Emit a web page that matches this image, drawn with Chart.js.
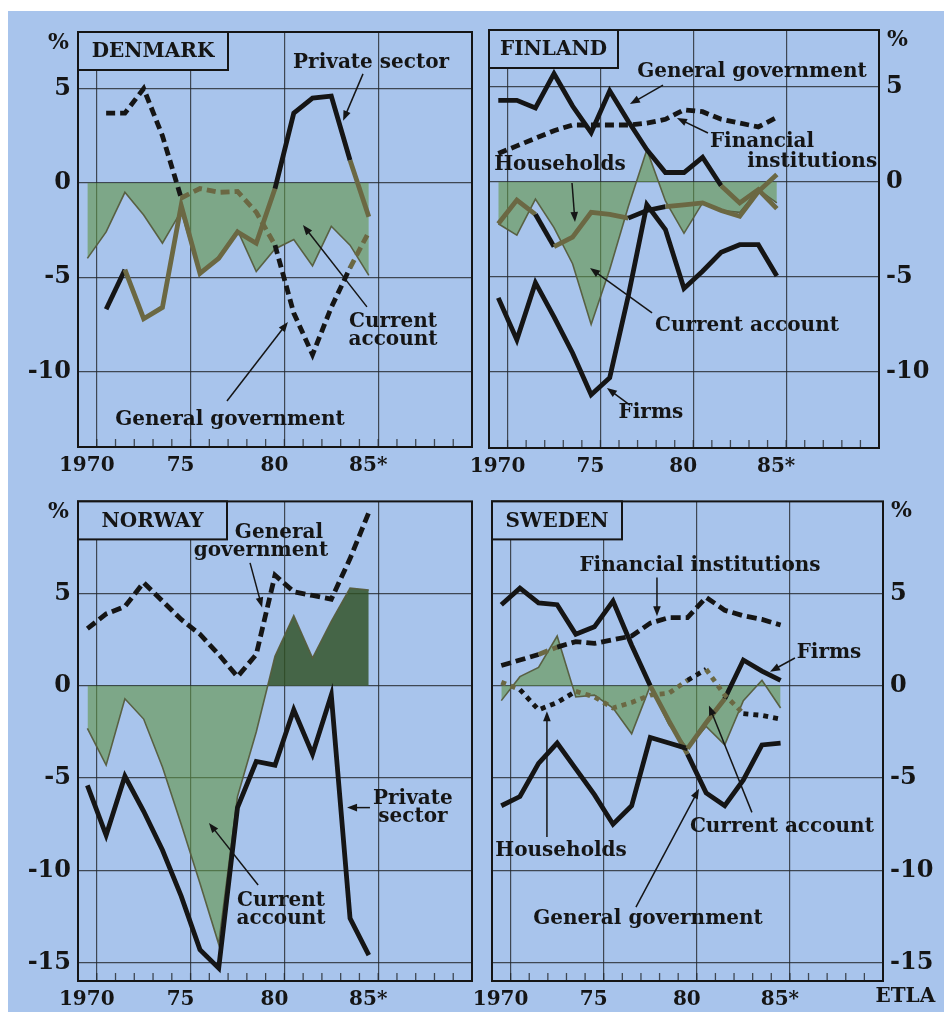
<!DOCTYPE html>
<html>
<head>
<meta charset="utf-8">
<title>Financial balances by sector, Nordic countries</title>
<script src="https://cdn.jsdelivr.net/npm/chart.js@4.4.1/dist/chart.umd.min.js"></script>
<style>
  html, body { margin: 0; padding: 0; background: #ffffff; }
  #sheet { position: relative; width: 944px; height: 1012px; overflow: hidden; background: #ffffff; }
  #paper { position: absolute; left: 8px; top: 11px; width: 936px; height: 1001px; background: #a8c4ec; }
  canvas { position: absolute; }
</style>
</head>
<body>
<div id="sheet">
  <div id="paper"></div>
  <canvas id="denmark" width="480" height="480" style="left:0;top:0;width:480px;height:480px"></canvas>
  <canvas id="finland" width="482" height="480" style="left:462px;top:0;width:482px;height:480px"></canvas>
  <canvas id="norway" width="480" height="532" style="left:0;top:480px;width:480px;height:532px"></canvas>
  <canvas id="sweden" width="482" height="532" style="left:462px;top:480px;width:482px;height:532px"></canvas>
</div>
<script>
// ---- data: financial balances, % of GDP ----
const years = [1970, 1971, 1972, 1973, 1974, 1975, 1976, 1977, 1978, 1979, 1980, 1981, 1982, 1983, 1984, 1985];
const yearLabelValues = [1970, 1975, 1980, 1985];
const yearTickLabels = ['1970', '75', '80', '85*'];
const valueTicksUpper = [5, 0, -5, -10];
const valueTicksLower = [5, 0, -5, -10, -15];

const denmarkCurrentAccount    = [-4.0, -2.6, -0.5, -1.7, -3.2, -1.5, -4.9, -3.9, -2.5, -4.7, -3.5, -3.0, -4.4, -2.3, -3.3, -4.9];
const denmarkGeneralGovernment = [null, 3.7, 3.7, 5.0, 2.5, -0.8, -0.3, -0.5, -0.45, -1.55, -3.3, -6.9, -9.1, -6.6, -4.5, -2.6];
const denmarkPrivateSector     = [null, -6.7, -4.6, -7.2, -6.6, -1.2, -4.8, -4.0, -2.6, -3.2, -0.3, 3.7, 4.5, 4.6, 1.2, -1.8];

const finlandCurrentAccount    = [-2.2, -2.8, -0.9, -2.4, -4.3, -7.5, -4.6, -1.3, 1.7, -1.0, -2.7, -1.1, -1.5, -1.6, -0.4, -1.1];
const finlandGeneralGovernment = [4.3, 4.3, 3.9, 5.7, 4.0, 2.6, 4.8, 3.2, 1.7, 0.5, 0.5, 1.3, -0.2, -1.1, -0.4, -1.4];
const finlandFinancialInst     = [1.5, 1.9, 2.3, 2.7, 3.0, 3.0, 3.0, 3.0, 3.1, 3.3, 3.8, 3.7, 3.3, 3.1, 2.9, 3.4];
const finlandHouseholds        = [-2.2, -0.95, -1.7, -3.4, -2.9, -1.6, -1.7, -1.9, -1.5, -1.3, -1.2, -1.1, -1.5, -1.8, -0.5, 0.4];
const finlandFirms             = [-6.1, -8.3, -5.3, -7.1, -9.0, -11.2, -10.3, -6.0, -1.2, -2.5, -5.6, -4.7, -3.7, -3.3, -3.3, -4.95];

const norwayCurrentAccount     = [-2.3, -4.3, -0.7, -1.8, -4.4, -7.5, -10.7, -14.0, -6.0, -2.5, 1.6, 3.8, 1.5, 3.5, 5.3, 5.2];
const norwayGeneralGovernment  = [3.1, 3.9, 4.3, 5.6, 4.6, 3.6, 2.8, 1.7, 0.5, 1.7, 6.0, 5.1, 4.9, 4.7, 6.9, 9.4];
const norwayPrivateSector      = [-5.4, -8.1, -4.9, -6.8, -8.9, -11.4, -14.3, -15.3, -6.6, -4.1, -4.3, -1.3, -3.7, -0.5, -12.6, -14.6];

const swedenCurrentAccount     = [-0.8, 0.5, 1.0, 2.7, -0.6, -0.5, -1.2, -2.6, 0.0, -2.1, -3.4, -2.2, -3.2, -0.8, 0.3, -1.2];
const swedenGeneralGovernment  = [4.4, 5.3, 4.5, 4.4, 2.8, 3.2, 4.6, 2.2, 0.0, -1.9, -3.7, -5.8, -6.5, -5.1, -3.2, -3.1];
const swedenFinancialInst      = [1.1, 1.4, 1.7, 2.1, 2.4, 2.3, 2.5, 2.7, 3.4, 3.7, 3.7, 4.8, 4.1, 3.8, 3.6, 3.3];
const swedenHouseholds         = [0.2, -0.2, -1.3, -0.9, -0.3, -0.6, -1.2, -0.9, -0.5, -0.4, 0.3, 0.9, -0.5, -1.5, -1.6, -1.8];
const swedenFirms              = [-6.5, -6.0, -4.2, -3.1, -4.5, -5.9, -7.5, -6.5, -2.8, -3.1, -3.4, -2.0, -0.7, 1.4, 0.8, 0.3];

// ---- look ----
const PAPER = '#a8c4ec';
const INK = '#151515';
const OLIVE = '#6b6843';
const SHADE = 'rgba(97,149,70,0.6)';
const SHADE_DARK = 'rgba(48,80,34,0.82)';
const SHADE_EDGE = 'rgba(85,92,60,0.95)';
const GRID = 'rgba(35,40,45,0.8)';
const SERIF = '"DejaVu Serif", "Liberation Serif", serif';

function pointsOf(values) {
  return years.map((yr, i) => ({ x: yr, y: values[i] }));
}

// a sector line turns olive where it runs through the shaded current-account band
function inShade(values, shade, i, j) {
  const a = values[i], b = values[j];
  if (a == null || b == null) return false;
  const m = (a + b) / 2, c = (shade[i] + shade[j]) / 2, tol = 0.2;
  return c < 0 ? (m <= tol && m >= c - tol) : (m >= -tol && m <= c + tol);
}

function sectorLine(s, shade) {
  const tinted = i => s.oliveFrom != null && years[i] >= s.oliveFrom && years[i] < s.oliveTo;
  return {
    label: s.label,
    data: pointsOf(s.values),
    order: 1,
    borderColor: INK,
    borderWidth: 4.8,
    borderDash: s.dash || [],
    borderJoinStyle: 'miter',
    borderCapStyle: 'butt',
    pointRadius: 0,
    tension: 0,
    fill: false,
    segment: {
      borderColor: c => (tinted(c.p0DataIndex) || inShade(s.values, shade, c.p0DataIndex, c.p1DataIndex)) ? OLIVE : INK
    }
  };
}

function shadeBand(values, above) {
  return {
    label: 'Current account',
    data: pointsOf(values),
    order: 2,
    borderColor: SHADE_EDGE,
    borderWidth: 1.6,
    pointRadius: 0,
    tension: 0,
    fill: { target: 'origin', above: above || SHADE, below: SHADE }
  };
}

const panelDecor = {
  id: 'panelDecor',
  afterDraw(chart, _args, o) {
    const { ctx, chartArea: a, scales } = chart;
    const x = scales.x, y = scales.y;
    ctx.save();

    // yearly tick marks standing on the bottom edge
    ctx.strokeStyle = GRID;
    ctx.lineWidth = 1.3;
    for (let v = yearLabelValues[0] + 0.5; v < x.max; v += 1) {
      const px = x.getPixelForValue(v);
      ctx.beginPath();
      ctx.moveTo(px, a.bottom);
      ctx.lineTo(px, a.bottom - 8);
      ctx.stroke();
    }

    // panel frame
    ctx.strokeStyle = INK;
    ctx.lineWidth = 2;
    ctx.strokeRect(a.left, a.top, a.right - a.left, a.bottom - a.top);

    // country box
    ctx.fillStyle = PAPER;
    ctx.fillRect(a.left, a.top, o.boxWidth, 38);
    ctx.strokeRect(a.left, a.top, o.boxWidth, 38);
    ctx.fillStyle = INK;
    ctx.font = 'bold 20px ' + SERIF;
    ctx.textAlign = 'center';
    ctx.textBaseline = 'middle';
    ctx.fillText(o.name, a.left + o.boxWidth / 2, a.top + 20);

    // unit sign beside the value axis
    ctx.font = 'bold 22px ' + SERIF;
    ctx.textBaseline = 'top';
    if (o.side === 'left') {
      ctx.textAlign = 'right';
      ctx.fillText('%', a.left - 9, a.top);
    } else {
      ctx.textAlign = 'left';
      ctx.fillText('%', a.right + 8, a.top - 1);
    }

    // series names with pointer arrows
    ctx.font = 'bold 20px ' + SERIF;
    ctx.textAlign = 'center';
    ctx.textBaseline = 'middle';
    for (const n of o.notes) {
      const cx = x.getPixelForValue(n.at[0]);
      const cy = y.getPixelForValue(n.at[1]);
      n.text.forEach((t, i) => {
        ctx.fillText(t, cx, cy + (i - (n.text.length - 1) / 2) * 18);
      });
      if (n.arrow) {
        const x1 = x.getPixelForValue(n.arrow[0][0]), y1 = y.getPixelForValue(n.arrow[0][1]);
        const x2 = x.getPixelForValue(n.arrow[1][0]), y2 = y.getPixelForValue(n.arrow[1][1]);
        const ang = Math.atan2(y2 - y1, x2 - x1);
        ctx.strokeStyle = INK;
        ctx.lineWidth = 1.5;
        ctx.beginPath();
        ctx.moveTo(x1, y1);
        ctx.lineTo(x2 - 6 * Math.cos(ang), y2 - 6 * Math.sin(ang));
        ctx.stroke();
        ctx.beginPath();
        ctx.moveTo(x2, y2);
        ctx.lineTo(x2 - 10 * Math.cos(ang) + 3.8 * Math.sin(ang), y2 - 10 * Math.sin(ang) - 3.8 * Math.cos(ang));
        ctx.lineTo(x2 - 10 * Math.cos(ang) - 3.8 * Math.sin(ang), y2 - 10 * Math.sin(ang) + 3.8 * Math.cos(ang));
        ctx.closePath();
        ctx.fill();
      }
    }
    ctx.restore();
  }
};

function buildPanel(id, cfg) {
  const datasets = [shadeBand(cfg.currentAccount, cfg.shadeAbove)]
    .concat(cfg.sectors.map(s => sectorLine(s, cfg.currentAccount)));
  return new Chart(document.getElementById(id), {
    type: 'line',
    data: { datasets },
    options: {
      responsive: false,
      animation: false,
      events: [],
      layout: { padding: cfg.padding },
      plugins: {
        legend: { display: false },
        tooltip: { enabled: false },
        panelDecor: { name: cfg.name, boxWidth: cfg.boxWidth, side: cfg.side, notes: cfg.notes }
      },
      scales: {
        x: {
          type: 'linear',
          min: yearLabelValues[0] - 0.5,
          max: yearLabelValues[yearLabelValues.length - 1] + 5.5,
          afterBuildTicks: s => { s.ticks = yearLabelValues.map(v => ({ value: v + 0.5 })); },
          afterFit: s => { s.height = cfg.xHeight; },
          ticks: {
            callback: (v, i) => yearTickLabels[i],
            labelOffset: -10,
            padding: 7,
            autoSkip: false,
            maxRotation: 0,
            color: INK,
            font: { family: SERIF, size: 20, weight: 'bold' }
          },
          grid: { color: GRID, lineWidth: 1.2, drawTicks: false },
          border: { display: false }
        },
        y: {
          position: cfg.side,
          min: cfg.yMin,
          max: cfg.yMax,
          afterBuildTicks: s => { s.ticks = cfg.yTicks.map(v => ({ value: v })); },
          afterFit: s => { s.width = cfg.yWidth; },
          ticks: {
            callback: v => String(v),
            padding: 7,
            color: INK,
            font: { family: SERIF, size: 24, weight: 'bold' }
          },
          grid: { color: GRID, lineWidth: 1.2, drawTicks: false },
          border: { display: false }
        }
      }
    },
    plugins: [panelDecor]
  });
}

buildPanel('denmark', {
  name: 'DENMARK', boxWidth: 150, side: 'left',
  padding: { left: 0, top: 32, right: 8, bottom: 0 }, yWidth: 78, xHeight: 33,
  yMin: -14, yMax: 8, yTicks: valueTicksUpper,
  currentAccount: denmarkCurrentAccount,
  sectors: [
    { label: 'General government', values: denmarkGeneralGovernment, dash: [9, 5] },
    { label: 'Private sector', values: denmarkPrivateSector, oliveFrom: 1972, oliveTo: 1975 }
  ],
  notes: [
    { text: ['Private sector'], at: [1985.12, 6.36], arrow: [[1984.69, 5.78], [1983.63, 3.3]] },
    { text: ['Current', 'account'], at: [1986.29, -7.85], arrow: [[1984.9, -6.57], [1981.49, -2.23]] },
    { text: ['General government'], at: [1977.6, -12.57], arrow: [[1977.44, -11.56], [1980.69, -7.37]] }
  ]
});

buildPanel('finland', {
  name: 'FINLAND', boxWidth: 129, side: 'right',
  padding: { left: 27, top: 30, right: 0, bottom: 0 }, yWidth: 65, xHeight: 32,
  yMin: -14, yMax: 8, yTicks: valueTicksUpper,
  currentAccount: finlandCurrentAccount,
  sectors: [
    { label: 'Financial institutions', values: finlandFinancialInst, dash: [9, 5] },
    { label: 'Households', values: finlandHouseholds },
    { label: 'Firms', values: finlandFirms },
    { label: 'General government', values: finlandGeneralGovernment }
  ],
  notes: [
    { text: ['General government'], at: [1983.66, 5.79], arrow: [[1978.87, 5.1], [1977.09, 4.1]] },
    { text: ['Financial'], at: [1984.2, 2.1], arrow: [[1981.29, 2.58], [1979.62, 3.37]] },
    { text: ['institutions'], at: [1986.9, 1.05] },
    { text: ['Households'], at: [1973.32, 0.89], arrow: [[1973.97, -0.05], [1974.13, -2.1]] },
    { text: ['Current account'], at: [1983.39, -7.58], arrow: [[1978.28, -6.89], [1974.94, -4.53]] },
    { text: ['Firms'], at: [1978.22, -12.16], arrow: [[1977.09, -11.74], [1975.85, -10.84]] }
  ]
});

buildPanel('norway', {
  name: 'NORWAY', boxWidth: 149, side: 'left',
  padding: { left: 0, top: 7, right: 8, bottom: 0 }, yWidth: 78, xHeight: 31,
  yMin: -16, yMax: 10, yTicks: valueTicksLower,
  currentAccount: norwayCurrentAccount, shadeAbove: SHADE_DARK,
  sectors: [
    { label: 'General government', values: norwayGeneralGovernment, dash: [10, 5] },
    { label: 'Private sector', values: norwayPrivateSector }
  ],
  notes: [
    { text: ['General'], at: [1980.21, 8.3] },
    { text: ['government'], at: [1979.25, 7.3], arrow: [[1978.67, 6.67], [1979.31, 4.25]] },
    { text: ['Current', 'account'], at: [1980.32, -12.12], arrow: [[1979.1, -10.8], [1976.48, -7.43]] },
    { text: ['Private', 'sector'], at: [1987.35, -6.62], arrow: [[1985.06, -6.6], [1983.84, -6.6]] }
  ]
});

buildPanel('sweden', {
  name: 'SWEDEN', boxWidth: 130, side: 'right',
  padding: { left: 30, top: 7, right: 0, bottom: 0 }, yWidth: 61, xHeight: 31,
  yMin: -16, yMax: 10, yTicks: valueTicksLower,
  currentAccount: swedenCurrentAccount,
  sectors: [
    { label: 'Financial institutions', values: swedenFinancialInst, dash: [10, 5] },
    { label: 'Households', values: swedenHouseholds, dash: [5, 5] },
    { label: 'Firms', values: swedenFirms },
    { label: 'General government', values: swedenGeneralGovernment }
  ],
  notes: [
    { text: ['Financial institutions'], at: [1980.67, 6.51], arrow: [[1978.36, 5.88], [1978.36, 3.77]] },
    { text: ['Firms'], at: [1987.6, 1.77], arrow: [[1985.77, 1.51], [1984.43, 0.77]] },
    { text: ['Current account'], at: [1985.07, -7.65], arrow: [[1983.46, -6.86], [1981.15, -1.06]] },
    { text: ['Households'], at: [1973.21, -8.96], arrow: [[1972.45, -8.2], [1972.45, -1.38]] },
    { text: ['General government'], at: [1977.88, -12.65], arrow: [[1977.23, -12.0], [1980.62, -5.58]] },
    { text: ['ETLA'], at: [1991.7, -16.85] }
  ]
});
</script>
</body>
</html>
